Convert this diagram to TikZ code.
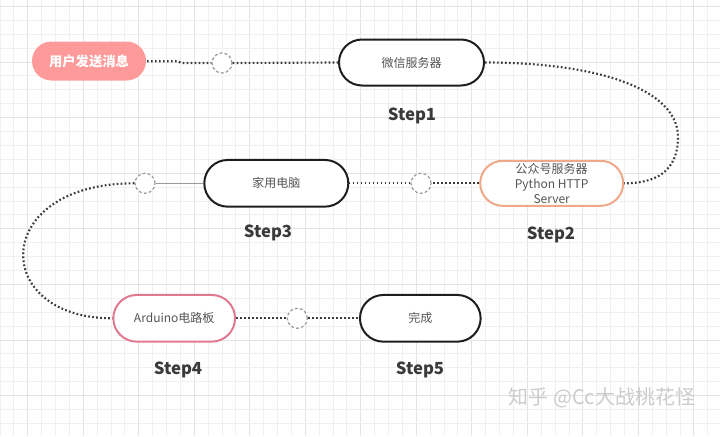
\documentclass[tikz,border=0pt]{standalone}
\usepackage{fontspec}
\setmainfont{Noto Sans CJK SC}
\usetikzlibrary{shapes.misc}
\definecolor{gridminor}{HTML}{F0F0F0}
\definecolor{gridmajor}{HTML}{E4E4E4}
\definecolor{pinkfill}{HTML}{FF9A9A}
\definecolor{ardborder}{HTML}{E07A90}
\definecolor{gzhborder}{HTML}{F0A888}
\definecolor{boxborder}{HTML}{1E1E1E}
\definecolor{txtgray}{HTML}{555555}
\definecolor{dotgray}{HTML}{3A3A3A}
\definecolor{circgray}{HTML}{9A9A9A}
\tikzset{
  pill/.style={rounded rectangle, draw=boxborder, line width=1.5pt, fill=white,
    inner sep=0pt, text=txtgray, font=\fontsize{9}{11}\selectfont},
  steplabel/.style={font=\fontsize{12.5}{14}\selectfont\bfseries, text=dotgray, inner sep=0pt},
  dotline/.style={draw=dotgray, line width=1.6pt, dash pattern=on 1.3pt off 1.7pt},
  hole/.style={circle, draw=circgray, line width=0.9pt, dash pattern=on 2.2pt off 1.6pt,
    minimum size=15pt, inner sep=0pt, fill=white},
}
\begin{document}
\begin{tikzpicture}[x=0.75pt,y=-0.75pt]
\useasboundingbox (0,0) rectangle (720,436);
\fill[white] (0,0) rectangle (720,436);
% grid
\foreach \k in {0,...,52}{
  \pgfmathsetmacro{\gx}{-0.05+13.875*\k}
  \pgfmathtruncatemacro{\m}{mod(\k,4)}
  \ifnum\m=2
    \draw[gridmajor, line width=0.6pt] (\gx,0) -- (\gx,436);
  \else
    \draw[gridminor, line width=0.5pt] (\gx,0) -- (\gx,436);
  \fi
}
\foreach \k in {0,...,31}{
  \pgfmathsetmacro{\gy}{6.3+13.9*\k}
  \pgfmathtruncatemacro{\m}{mod(\k,4)}
  \ifnum\m=0
    \draw[gridmajor, line width=0.6pt] (0,\gy) -- (720,\gy);
  \else
    \draw[gridminor, line width=0.5pt] (0,\gy) -- (720,\gy);
  \fi
}
% nodes
\node[pill, draw=none, fill=pinkfill, text=white, minimum width=85.5pt, minimum height=29.25pt,
  font=\fontsize{10}{12}\selectfont\bfseries] (user) at (89,61) {用户发送消息};
\node[pill, minimum width=108.75pt, minimum height=34.5pt] (wx) at (411.5,62.5) {微信服务器};
\node[pill, draw=gzhborder, minimum width=107.25pt, minimum height=33.75pt] (gzh) at (551.7,183.3) {};
\node[text=txtgray, align=center, inner sep=0pt, font=\fontsize{9}{11.2}\selectfont] (gzhtext) at (551.7,183.3) {公众号服务器\\Python HTTP\\Server};
\node[pill, minimum width=108pt, minimum height=35pt] (home) at (276.3,183.3) {家用电脑};
\node[pill, draw=ardborder, minimum width=91.3pt, minimum height=35pt] (ard) at (174.2,318.3) {Arduino电路板};
\node[pill, minimum width=90.5pt, minimum height=35pt] (done) at (420.3,318.3) {完成};
% step labels
\node[steplabel] (s1) at (412,116) {Step1};
\node[steplabel] (s2) at (551,235) {Step2};
\node[steplabel] (s3) at (268,233) {Step3};
\node[steplabel] (s4) at (178,370) {Step4};
\node[steplabel] (s5) at (420,370) {Step5};
% holes
\node[hole] (h1) at (222,63) {};
\node[hole] (h2) at (421,183.3) {};
\node[hole] (h3) at (145,183.3) {};
\node[hole] (h4) at (297.3,318.3) {};
\coordinate (bend1) at (178,61.3);
\coordinate (bend2) at (181,63);
% connectors
\draw[dotline] (user.east |- bend1) -- (bend1) -- (bend2) -- (h1.west);
\draw[dotline] (h1.east) -- (wx.west);
\coordinate (rmax) at (678,137);
\draw[dotline] (wx.east) .. controls (600,62.5) and (678,90) .. (rmax)
  .. controls (678,172) and (655,183.3) .. (gzh.east);
\draw[dotline] (gzh.west) -- (h2.east);
\draw[dotline] (h2.west) -- (home.east);
\draw[draw=circgray, line width=0.6pt] (home.west) -- (h3.east);
\draw[dotline] (h3.west) .. controls (-10,183.3) and (-10,318.3) .. (ard.west);
\draw[dotline] (ard.east) -- (h4.west);
\draw[dotline] (h4.east) -- (done.west);
% watermark
\node[text=black!20, inner sep=0pt, font=\fontsize{15}{17}\selectfont] (wm) at (602,398) {知乎 @Cc大战桃花怪};
\end{tikzpicture}
\end{document}
